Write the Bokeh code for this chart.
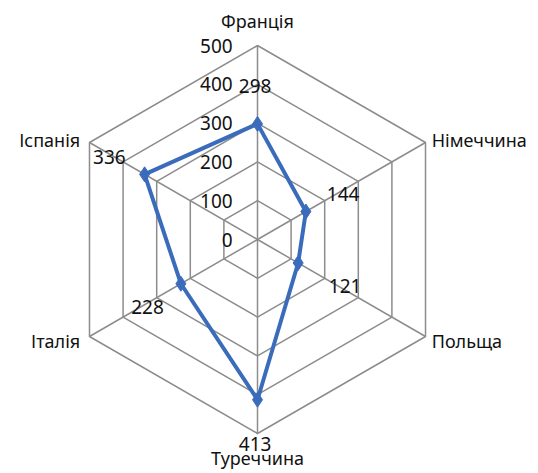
import numpy as np
from bokeh.plotting import figure
from bokeh.models import ColumnDataSource
from bokeh.core.properties import value
from bokeh.embed import file_html
from bokeh.resources import INLINE

categories = ["Франція", "Німеччина", "Польща", "Туреччина", "Італія", "Іспанія"]
values = [298, 144, 121, 413, 228, 336]
ticks = [0, 100, 200, 300, 400, 500]
tick_labels = ["0", "100", "200", "300", "400", "500"]
rmax = 500

scale = 0.388  # px per unit
W, H = 538, 473
cx, cy = 257, 239  # centre in figure pixels (from top-left)
x_range = (-cx / scale, (W - cx) / scale)
y_range = (-(H - cy) / scale, cy / scale)

p = figure(width=W, height=H, x_range=x_range, y_range=y_range,
           output_backend="svg", toolbar_location=None, min_border=0)
p.axis.visible = False
p.grid.visible = False
p.outline_line_color = None
p.background_fill_color = "white"

n = len(categories)
angles = np.pi / 2 - np.arange(n) * 2 * np.pi / n
cosa, sina = np.cos(angles), np.sin(angles)

grid_col = "#8c8c8c"
for t in ticks[1:]:
    xs = list(t * cosa) + [t * cosa[0]]
    ys = list(t * sina) + [t * sina[0]]
    p.line(xs, ys, line_color=grid_col, line_width=1.5)
p.multi_line([[0, rmax * c] for c in cosa], [[0, rmax * s] for s in sina],
             line_color=grid_col, line_width=1.5)

v = np.array(values, dtype=float)
xs = list(v * cosa) + [v[0] * cosa[0]]
ys = list(v * sina) + [v[0] * sina[0]]
blue = "#3b6cbc"
p.line(xs, ys, line_color=blue, line_width=4)
p.scatter(v * cosa, v * sina, marker="diamond", size=15, fill_color=blue, line_color=blue)

font = value("Noto Sans")
txt_col = "#111111"

p.text(x=[-64] * len(ticks), y=ticks, text=tick_labels, text_align="right",
       text_baseline="middle", text_font=font, text_font_size="19px", text_color=txt_col)

# data labels, pushed radially outward (lower-right one sits a bit further right)
nudge_x = np.array([-6, 5, 30, -6, 5, 0])
lx = (v + 105) * cosa + nudge_x
ly = (v + 105) * sina - 8
p.text(x=lx, y=ly, text=[str(x) for x in values], text_align="center",
       text_baseline="middle", text_font=font, text_font_size="19px", text_color=txt_col)

aligns = []
dx = []
for c in cosa:
    if c > 0.1:
        aligns.append("left"); dx.append(16)
    elif c < -0.1:
        aligns.append("right"); dx.append(-24)
    else:
        aligns.append("center"); dx.append(0)
cx_l = rmax * cosa + np.array(dx)
cy_l = rmax * sina + np.where(np.abs(cosa) < 0.1, 64 * np.sign(sina), np.where(sina < 0, -12, 6))
src = ColumnDataSource(dict(x=cx_l, y=cy_l, t=categories, a=aligns))
p.text(x="x", y="y", text="t", text_align="a", text_baseline="middle", source=src,
       text_font=font, text_font_size="18px", text_color=txt_col)

open("out.html", "w").write(file_html(p, INLINE))
